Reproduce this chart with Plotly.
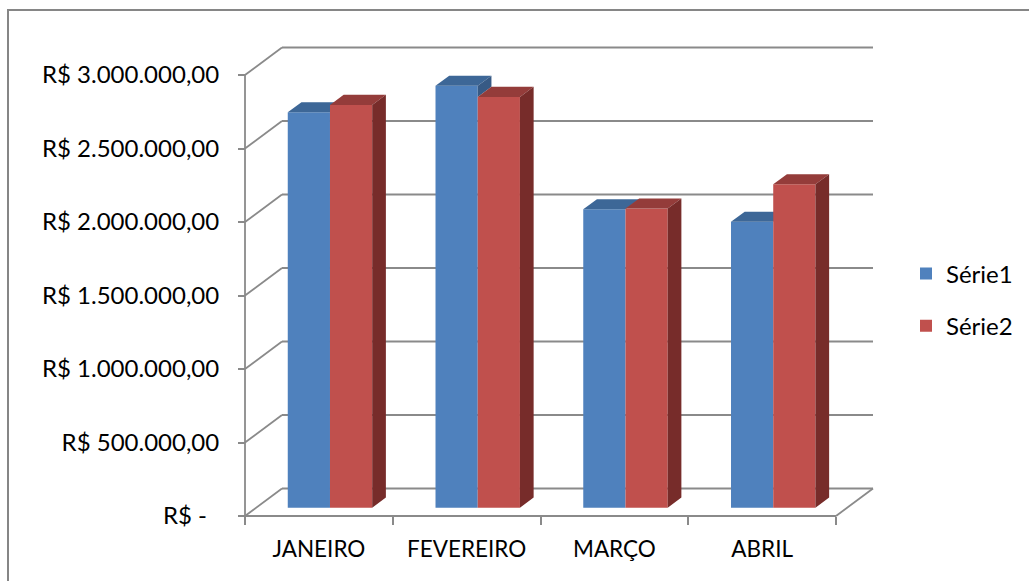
import plotly.graph_objects as go

# ---------------- data ----------------
categories = ["JANEIRO", "FEVEREIRO", "MARÇO", "ABRIL"]
serie1 = [2690000, 2870000, 2030000, 1945000]
serie2 = [2740000, 2795000, 2035000, 2200000]
series_names = ["Série1", "Série2"]
y_tickvals = [0, 500000, 1000000, 1500000, 2000000, 2500000, 3000000]
y_ticktext = ["R$ -\u00a0\u00a0", "R$ 500.000,00", "R$ 1.000.000,00",
              "R$ 1.500.000,00", "R$ 2.000.000,00", "R$ 2.500.000,00", "R$ 3.000.000,00"]

# ---------------- geometry (pseudo-3D) ----------------
W, H = 1029, 581
ML, MR, MT, MB = 239, 150, 42, 59
PW, PH = W - ML - MR, H - MT - MB
PX_PER_X = 147.75          # px per category
PX_PER_Y = 147.0 / 1e6     # px per R$
ORIG_X, ORIG_Y = 245, 516  # pixel position of the front origin
DEPTH_X = 37 / PX_PER_X    # back wall offset in x units
DEPTH_Y = 27.5 / PX_PER_Y  # back wall offset in y units

x0 = -(ORIG_X - ML) / PX_PER_X
x1 = x0 + PW / PX_PER_X
y0 = -((H - MB) - ORIG_Y) / PX_PER_Y
y1 = y0 + PH / PX_PER_Y

N = len(categories)
BAR_W = 1 / 3.5            # gap width 150%
F_FRONT = 0.30             # depth fraction of bar front face
F_DEPTH = 0.37             # depth fraction of bar thickness
bdx, bdy = F_FRONT * DEPTH_X, F_FRONT * DEPTH_Y
ddx, ddy = F_DEPTH * DEPTH_X, F_DEPTH * DEPTH_Y

GRID = "#8a8a8a"
front_cols = ["#4F81BD", "#C0504D"]
top_cols = ["#3D6797", "#943C3A"]
side_cols = ["#375A85", "#772C2A"]

FONT = "Lato, Calibri, 'Open Sans', sans-serif"

fig = go.Figure()

centers = [i + 0.5 + bdx for i in range(N)]
all_series = [serie1, serie2]

for s, vals in enumerate(all_series):
    xa = "x" if s == 0 else "x2"
    ya = "y" if s == 0 else "y2"
    offset = -BAR_W if s == 0 else 0.0
    fig.add_trace(go.Bar(
        x=centers, y=vals, base=[bdy] * N, width=[BAR_W] * N, offset=[offset] * N,
        marker=dict(color=front_cols[s], line=dict(width=0)),
        name=series_names[s], legendgroup=series_names[s],
        xaxis=xa, yaxis=ya, hoverinfo="skip"))
    tx, ty = [], []
    sx, sy = [], []
    for i, v in enumerate(vals):
        xl = centers[i] + offset
        xr = xl + BAR_W
        top = bdy + v
        tx += [xl, xr, xr + ddx, xl + ddx, xl, None]
        ty += [top, top, top + ddy, top + ddy, top, None]
        if s == 0:
            other = bdy + all_series[1][i]
            if top > other:
                sx += [xr, xr, xr + ddx, xr + ddx, xr, None]
                sy += [other, top, top + ddy, other + ddy, other, None]
        else:
            sx += [xr, xr, xr + ddx, xr + ddx, xr, None]
            sy += [bdy, top, top + ddy, bdy + ddy, bdy, None]
    fig.add_trace(go.Scatter(x=tx, y=ty, mode="lines", fill="toself",
                             fillcolor=top_cols[s], line=dict(width=0, color=top_cols[s]),
                             showlegend=False, hoverinfo="skip", xaxis=xa, yaxis=ya))
    if sx:
        fig.add_trace(go.Scatter(x=sx, y=sy, mode="lines", fill="toself",
                                 fillcolor=side_cols[s], line=dict(width=0, color=side_cols[s]),
                                 showlegend=False, hoverinfo="skip", xaxis=xa, yaxis=ya))

# ---------------- walls / gridlines ----------------
shapes = []
lw = 1.8
for v in y_tickvals:
    shapes.append(dict(type="line", xref="x", yref="y", x0=DEPTH_X, y0=v + DEPTH_Y,
                       x1=N + DEPTH_X, y1=v + DEPTH_Y, line=dict(color=GRID, width=lw), layer="below"))
    shapes.append(dict(type="line", xref="x", yref="y", x0=0, y0=v,
                       x1=DEPTH_X, y1=v + DEPTH_Y, line=dict(color=GRID, width=lw), layer="below"))
shapes.append(dict(type="line", xref="x", yref="y", x0=0, y0=0, x1=N, y1=0,
                   line=dict(color=GRID, width=lw), layer="below"))
shapes.append(dict(type="line", xref="x", yref="y", x0=N, y0=0, x1=N + DEPTH_X, y1=DEPTH_Y,
                   line=dict(color=GRID, width=lw), layer="below"))
shapes.append(dict(type="line", xref="x", yref="y", x0=0, y0=0, x1=0, y1=y_tickvals[-1],
                   line=dict(color=GRID, width=lw), layer="below"))
shapes.append(dict(type="rect", xref="paper", yref="paper",
                   x0=(8 - ML) / PW, x1=(1040 - ML) / PW,
                   y0=-(600 - (H - MB)) / PH, y1=((H - MB) - 10) / PH,
                   line=dict(color="#868686", width=2), fillcolor="rgba(0,0,0,0)", layer="below"))

xpos_y = (0 - x0) / (x1 - x0)
ypos_x = (0 - y0) / (y1 - y0)

fig.update_layout(
    width=W, height=H,
    margin=dict(l=ML, r=MR, t=MT, b=MB, pad=0, autoexpand=False),
    paper_bgcolor="white", plot_bgcolor="white",
    barmode="overlay",
    shapes=shapes,
    font=dict(family=FONT, size=23, color="#000000"),
    xaxis=dict(range=[x0, x1], showgrid=False, zeroline=False, showline=False,
               anchor="free", position=ypos_x, automargin=False,
               tickmode="array", tickvals=[i + 0.5 for i in range(N)], ticktext=categories,
               ticks="", ticklabelstandoff=17,
               minor=dict(tickmode="array", tickvals=list(range(N + 1)), ticks="outside",
                          ticklen=8, tickwidth=1.8, tickcolor=GRID, showgrid=False),
               tickfont=dict(family=FONT, size=22.5, color="#000")),
    yaxis=dict(range=[y0, y1], showgrid=False, zeroline=False, showline=False,
               anchor="free", position=xpos_y, automargin=False,
               tickmode="array", tickvals=y_tickvals, ticktext=y_ticktext,
               ticks="outside", ticklen=7, tickwidth=1.8, tickcolor=GRID,
               ticklabelstandoff=14,
               tickfont=dict(family=FONT, size=24, color="#000")),
    xaxis2=dict(range=[x0, x1], overlaying="x", visible=False),
    yaxis2=dict(range=[y0, y1], overlaying="y", visible=False),
    legend=dict(x=(906 - ML) / PW, xanchor="left", y=((H - MB) - 300) / PH, yanchor="middle",
                font=dict(family=FONT, size=24, color="#000"),
                traceorder="grouped", tracegroupgap=18, bgcolor="rgba(0,0,0,0)"),
)

fig.write_html("out.html")
